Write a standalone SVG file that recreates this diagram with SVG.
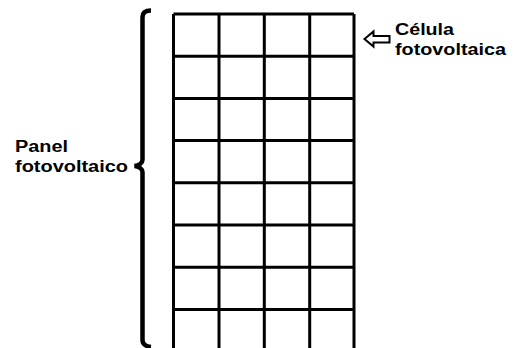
<svg xmlns="http://www.w3.org/2000/svg" width="517" height="348" viewBox="0 0 517 348">
<style>
.g{stroke:#000;stroke-width:3;fill:none}
.t{font-family:"Liberation Sans",Arial,sans-serif;font-weight:bold;font-size:16px;fill:#000}
</style>
<rect width="517" height="348" fill="#fff"/>
<g id="panel">
<path class="g" d="M173.5,14V352M219,14V352M264.3,14V352M309.7,14V352M354,14V352"/>
<path class="g" d="M173.5,14H354M173.5,56.2H354M173.5,98.4H354M173.5,140.6H354M173.5,182.8H354M173.5,225H354M173.5,267.2H354M173.5,309.4H354"/>
</g>
<g id="brace">
<path d="M151,10.5 C146,10.5 142.5,12 142.5,17 V160 C142.5,163 139,165.5 134.5,166 C139,166.5 142.5,169 142.5,172 V340 C142.5,344 146,346.5 151,347" fill="none" stroke="#000" stroke-width="4.5"/>
</g>
<g id="label-panel">
<text class="t" x="15" y="152" textLength="53" lengthAdjust="spacingAndGlyphs">Panel</text>
<text class="t" x="15" y="172" textLength="113" lengthAdjust="spacingAndGlyphs">fotovoltaico</text>
</g>
<g id="connectors">
<path d="M364.5,39 L373.5,31.5 V36 H389.5 V42.5 H373.5 V46.5 Z" fill="#fff" stroke="#000" stroke-width="2" stroke-linejoin="miter"/>
</g>
<g id="label-cell">
<text class="t" x="395" y="35" textLength="59" lengthAdjust="spacingAndGlyphs">Célula</text>
<text class="t" x="395" y="55" textLength="111" lengthAdjust="spacingAndGlyphs">fotovoltaica</text>
</g>
</svg>
